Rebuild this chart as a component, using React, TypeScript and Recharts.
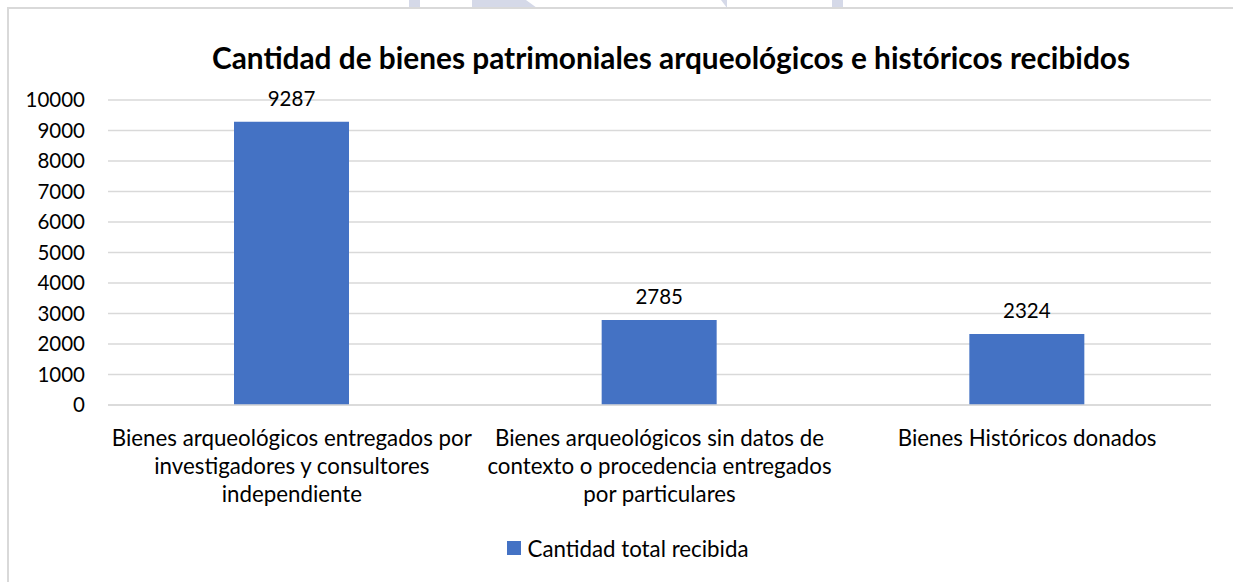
import React from 'react';
import { BarChart, Bar, XAxis, YAxis, CartesianGrid, LabelList, Legend } from 'recharts';

const categories = [
    'Bienes arqueológicos entregados por\ninvestigadores y consultores\nindependiente',
    'Bienes arqueológicos sin datos de\ncontexto o procedencia entregados\npor particulares',
    'Bienes Históricos donados',
];
const received = [9287, 2785, 2324];
const yTicks = [0, 1000, 2000, 3000, 4000, 5000, 6000, 7000, 8000, 9000, 10000];

const TITLE = 'Cantidad de bienes patrimoniales arqueológicos e históricos recibidos';
const SERIES_NAME = 'Cantidad total recibida';
const FONT = 'Lato, "Open Sans", sans-serif';
const BAR_COLOR = '#4472c4';
const GRID = '#d9d9d9';

const data = categories.map((name, i) => ({ name, value: received[i] }));

// multi-line category label, split on \n
function CategoryTick({ x, y, payload }: { x?: number; y?: number; payload?: { value: string } }) {
    const lines = (payload?.value ?? '').split('\n');
    return (
        <text x={x} y={y} textAnchor="middle" fontFamily={FONT} fontSize={22.3} fill="#000">
            {lines.map((line, i) => (
                <tspan key={i} x={x} y={(y ?? 0) + 33 + i * 28}>{line}</tspan>
            ))}
        </text>
    );
}

function LegendBox() {
    return (
        <div style={{ display: 'flex', justifyContent: 'center', alignItems: 'center', height: 30, fontFamily: FONT, fontSize: 22.3 }}>
            <span style={{ width: 14, height: 14, background: BAR_COLOR, marginRight: 6, marginLeft: 23 }} />
            <span style={{ color: '#000' }}>{SERIES_NAME}</span>
        </div>
    );
}

export default function App() {
    return (
        <div style={{ position: 'absolute', left: 0, top: 0, width: 1233, height: 582, overflow: 'hidden', background: '#fff' }}>
            {/* scanned watermark fragments above the frame */}
            <svg width={1233} height={9} style={{ position: 'absolute', left: 0, top: 0 }}>
                <rect x={409} y={0} width={11} height={8} fill="#d5d9e8" />
                <polygon points="472,0 526,0 537,8 727,8 721,0 727,0 727,8 472,8" fill="#d5d9e8" />
                <rect x={832} y={0} width={11} height={8} fill="#d5d9e8" />
            </svg>
            <div style={{ position: 'absolute', left: 7, top: 7, width: 1260, height: 620, border: `2px solid ${GRID}` }} />
            <div style={{ position: 'absolute', left: 0, top: 0, width: 1233, fontFamily: FONT }}>
                <div style={{ position: 'absolute', left: 0, top: 40, width: 1342, textAlign: 'center', fontWeight: 700, fontSize: 29.8, color: '#000', whiteSpace: 'nowrap' }}>
                    {TITLE}
                </div>
                <BarChart
                    width={1233}
                    height={582}
                    data={data}
                    margin={{ top: 100, right: 22, left: 8, bottom: 37 }}
                >
                    <CartesianGrid vertical={false} stroke={GRID} strokeWidth={1.5} />
                    <XAxis
                        dataKey="name"
                        tick={<CategoryTick />}
                        tickLine={false}
                        axisLine={{ stroke: GRID, strokeWidth: 1.5 }}
                        interval={0}
                        height={110}
                    />
                    <YAxis
                        domain={[0, 10000]}
                        ticks={yTicks}
                        interval={0}
                        width={100}
                        tickLine={false}
                        axisLine={false}
                        tickMargin={17}
                        tick={{ fontFamily: FONT, fontSize: 20.5, fill: '#000' }}
                    />
                    <Legend
                        verticalAlign="bottom"
                        content={<LegendBox />}
                        wrapperStyle={{ top: 533, bottom: 'auto', left: 0, width: 1233 }}
                    />
                    <Bar dataKey="value" name={SERIES_NAME} fill={BAR_COLOR} barSize={115} isAnimationActive={false}>
                        <LabelList dataKey="value" position="top" offset={16} fill="#000" fontFamily={FONT} fontSize={20.5} />
                    </Bar>
                </BarChart>
            </div>
        </div>
    );
}
